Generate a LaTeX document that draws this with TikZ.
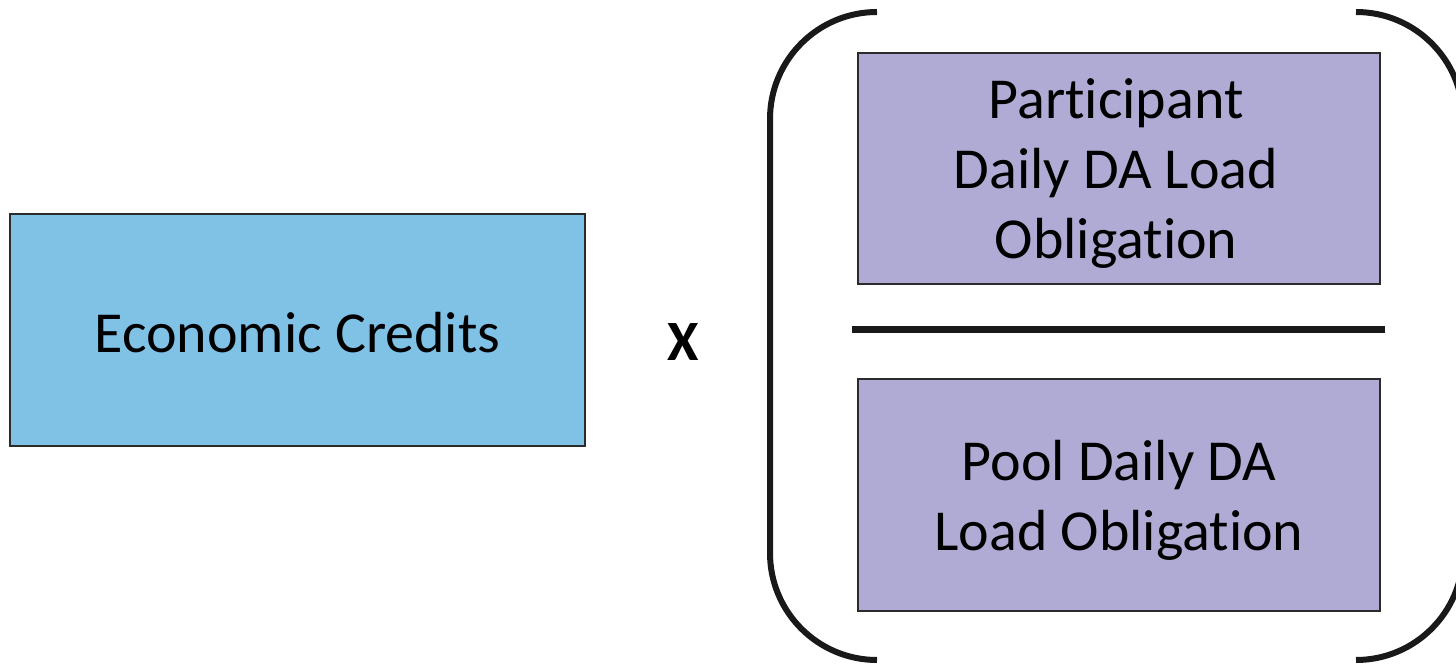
\documentclass[tikz,border=0pt]{standalone}
\usepackage{fontspec}
\setmainfont{Carlito}[Ligatures=NoCommon]
\definecolor{creditblue}{HTML}{80C1E6}
\definecolor{obligpurple}{HTML}{B0ABD4}
\definecolor{edgegray}{HTML}{2B2B2B}
\begin{document}
\begin{tikzpicture}[x=1pt,y=-1pt,
  box/.style={draw=edgegray, line width=2pt, minimum width=#1, inner sep=0pt},
  lbl/.style={inner sep=0pt, align=center, font=\fontsize{58}{70}\selectfont},
  bracket/.style={line width=6pt, color=black!90},
  ]
\useasboundingbox (0,0) rectangle (1456,666);
% left factor
\node[box=575pt, fill=creditblue, minimum height=232pt] (credits) at (297.5,330) {};
\node[lbl] (creditsText) at ([yshift=-3pt]credits.center) {Economic Credits};
\node[font=\fontsize{57}{60}\selectfont\bfseries] (times) at (683,342) {X};
% ratio of obligations
\node[box=522pt, fill=obligpurple, minimum height=231pt] (part) at (1119,168.5) {};
\node[lbl] (partText) at ([xshift=-3pt,yshift=-5pt]part.center) {Participant\\Daily DA Load\\Obligation};
\node[box=522pt, fill=obligpurple, minimum height=232pt] (pool) at (1119,495) {};
\node[lbl] (poolText) at ([yshift=-5pt]pool.center) {Pool Daily DA\\Load Obligation};
\coordinate (barL) at (852,329.5);
\coordinate (barR) at (1385,329.5);
\draw[line width=7pt, color=black!90] (barL) -- (barR);
% parentheses
\draw[bracket] (877,12) arc[start angle=270, end angle=180, radius=107] -- (770,553) arc[start angle=180, end angle=90, radius=107];
\draw[bracket] (1356,12) arc[start angle=270, end angle=360, radius=107] -- (1463,553) arc[start angle=0, end angle=90, radius=107];
\end{tikzpicture}
\end{document}
